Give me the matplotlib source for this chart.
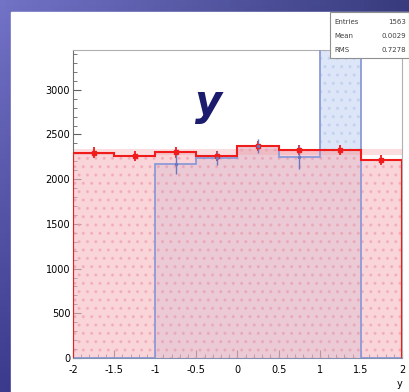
"""
ROOT-style histogram comparison of y, red reference vs blue sample
"""
import numpy as np
import matplotlib.pyplot as plt
from matplotlib.colors import to_rgb
from matplotlib.patches import Rectangle

# Bin edges and contents
edges = [-2.0, -1.5, -1.0, -0.5, 0.0, 0.5, 1.0, 1.5, 2.0]
red_counts = [2295, 2262, 2300, 2262, 2372, 2325, 2328, 2212]
red_errors = [60, 55, 60, 55, 60, 55, 55, 55]
blue_counts = [0, 0, 2170, 2237, 2370, 2248, 4200, 0]
blue_errors = [0, 0, 115, 80, 80, 130, 0, 0]
stat_names = ['Entries', 'Mean', 'RMS']
stat_values = ['1563', '0.0029', '0.7278']

# Figure with the slide background (bilinear blue gradient, row 0 at top)
fig = plt.figure(figsize=(4.09, 3.92), dpi=100)
bg = fig.add_axes([0, 0, 1, 1])
tl, tr = np.array(to_rgb('#7272c6')), np.array(to_rgb('#383c7e'))
bl, br = np.array(to_rgb('#3c3a8c')), np.array(to_rgb('#2c2e70'))
u = np.linspace(0, 1, 64)[None, :, None]
v = np.linspace(0, 1, 64)[:, None, None]
img = (1 - v) * ((1 - u) * tl + u * tr) + v * ((1 - u) * bl + u * br)
bg.imshow(img, aspect='auto', extent=[0, 1, 0, 1], origin='upper')
bg.add_patch(Rectangle((11 / 409, 0), 1, 1 - 12 / 392, color='white', zorder=2))
bg.set_xlim(0, 1)
bg.set_ylim(0, 1)
bg.axis('off')

# Main frame
ax = fig.add_axes([73 / 409, 1 - 358 / 392, 329 / 409, 308 / 392])
centers = 0.5 * (np.array(edges[:-1]) + np.array(edges[1:]))

# Blue histogram, filled with a light dotted pattern
ax.stairs(blue_counts, edges, fill=True, facecolor='#dce6f8', edgecolor='#c4d2f0',
          hatch='..', linewidth=0, zorder=1)
ax.stairs(blue_counts, edges, color='#8c9ad8', linewidth=1.3, zorder=4)

# Red histogram, semi transparent pink fill
ax.stairs(red_counts, edges, fill=True, facecolor='#f6b8c0', alpha=0.6,
          edgecolor='#f0a0b0', hatch='..', linewidth=0, zorder=2)
ax.axhspan(2270, 2335, color='#f4a0a8', alpha=0.35, linewidth=0, zorder=2)
ax.stairs(red_counts, edges, color='#f01c1c', linewidth=1.5, zorder=5)
ax.errorbar(centers, red_counts, yerr=red_errors, fmt='s', color='#f01c1c',
            markersize=3, elinewidth=1.3, capsize=0, zorder=6)

# Blue error bars where the blue histogram has entries
bmask = np.array(blue_errors) > 0
ax.errorbar(centers[bmask], np.array(blue_counts)[bmask],
            yerr=np.array(blue_errors)[bmask], fmt='.', color='#6a78c0',
            markersize=3, elinewidth=1.0, capsize=0, zorder=6)

ax.set_xlim(-2, 2)
ax.set_ylim(0, 3445)
ax.set_xticks([-2, -1.5, -1, -0.5, 0, 0.5, 1, 1.5, 2])
ax.set_xticklabels(['-2', '-1.5', '-1', '-0.5', '0', '0.5', '1', '1.5', '2'])
ax.set_xticks(np.arange(-2, 2.01, 0.1), minor=True)
ax.set_yticks([0, 500, 1000, 1500, 2000, 2500, 3000])
ax.set_yticks(np.arange(0, 3445, 100), minor=True)
ax.tick_params(axis='both', which='both', direction='in', labelsize=7,
               color='#606060')
ax.tick_params(axis='y', pad=2)
ax.tick_params(axis='x', pad=5)
ax.tick_params(which='major', length=6)
ax.tick_params(which='minor', length=3)
for side in ['top', 'right']:
    ax.spines[side].set_color('#b0b0b0')
ax.spines['left'].set_color('#707070')
ax.spines['bottom'].set_color('#8090b0')
ax.set_xlabel('y', fontsize=7, loc='right', labelpad=3)

# Big variable name
ax.text(-0.35, 2850, 'y', fontsize=30, fontweight='bold', fontstyle='italic',
        color='#1c1c6e', ha='center', va='center', zorder=7)

# Stats box
fig.patches.append(Rectangle((330 / 409, 1 - 58 / 392), 79 / 409, 46 / 392,
                             transform=fig.transFigure, facecolor='white',
                             edgecolor='#909090', linewidth=0.8, zorder=10))
for i in range(len(stat_names)):
    yy = 1 - (22 + 14 * i) / 392
    fig.text(334 / 409, yy, stat_names[i], fontsize=5, ha='left', va='center',
             color='#404040', zorder=11)
    fig.text(406 / 409, yy, stat_values[i], fontsize=5, ha='right', va='center',
             color='#404040', zorder=11)

plt.savefig('out.png', dpi=100)
